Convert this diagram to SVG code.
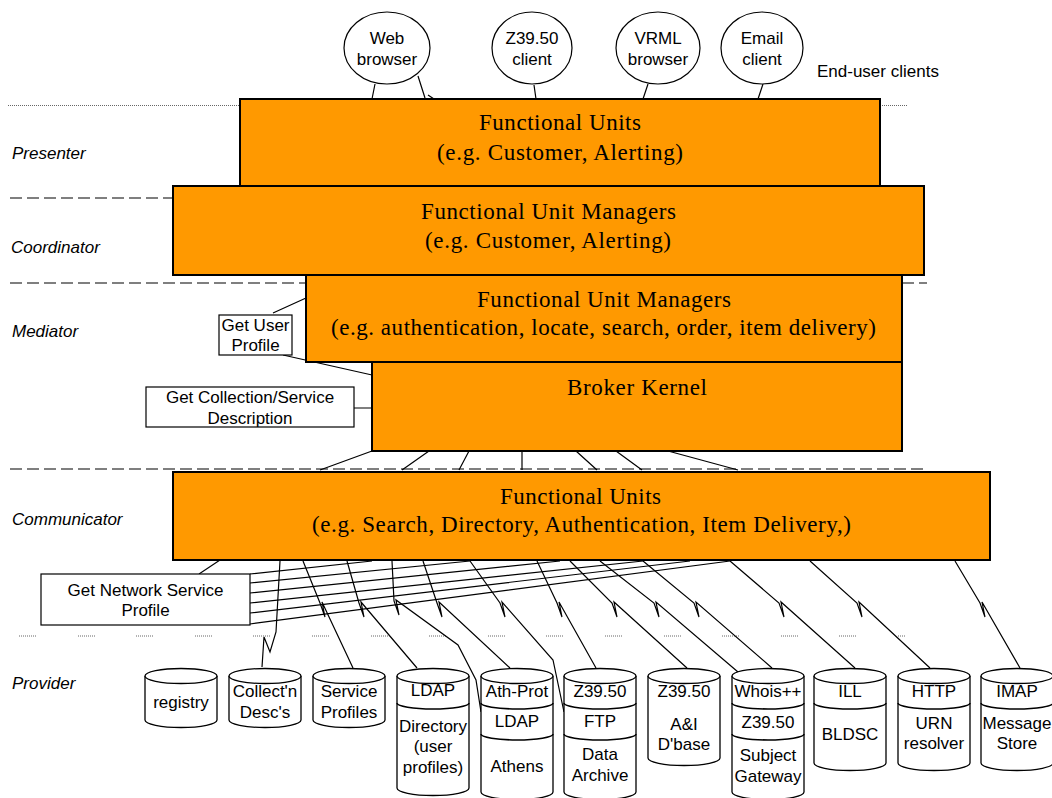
<svg xmlns="http://www.w3.org/2000/svg" width="1052" height="798" viewBox="0 0 1052 798">
<style>
.box{fill:#FF9900;stroke:#000;stroke-width:2}
.ser{font-family:"Liberation Serif","Times New Roman",serif;font-size:23px;fill:#000;text-anchor:middle}
.sans{font-family:"Liberation Sans",Arial,sans-serif;font-size:17px;fill:#000;text-anchor:middle}
.lab{font-family:"Liberation Sans",Arial,sans-serif;font-size:17px;font-style:italic;fill:#000}
.ln{fill:none;stroke:#000;stroke-width:1.2}
.dash{stroke:#555;stroke-width:1.5;stroke-dasharray:12 5;fill:none}
.dot{stroke:#666;stroke-width:1;stroke-dasharray:1 1;fill:none}
.cyl{fill:#fff;stroke:#000;stroke-width:1.3}
.lay{fill:none;stroke:#000;stroke-width:1.6}
.note{fill:#fff;stroke:#000;stroke-width:1.2}
.cli{fill:#fff;stroke:#000;stroke-width:1.2}
</style>
<rect width="1052" height="798" fill="#fff"/>
<g id="separators">
<path class="dot" d="M8 105.5H240M880 105.5H907"/>
<path class="dash" d="M10 198H173"/>
<path class="dash" d="M10 283H306M902 283H927"/>
<path class="dash" d="M10 469H926"/>
<path class="dot" d="M19 636h18M78 636h18M136 636h18M195 636h18M253 636h18M312 636h18M371 636h18M429 636h18M488 636h18M546 636h18M605 636h18M664 636h18M722 636h18M781 636h18M839 636h18M898 636h7"/>
</g>
<g id="layer-labels">
<text class="lab" x="12" y="159">Presenter</text>
<text class="lab" x="11" y="253">Coordinator</text>
<text class="lab" x="12" y="337">Mediator</text>
<text class="lab" x="12" y="525">Communicator</text>
<text class="lab" x="12" y="689">Provider</text>
<text class="sans" x="817" y="77" style="text-anchor:start">End-user clients</text>
</g>
<g id="connectors">
<path class="ln" d="M375 84L372 99M418 76L425 98M428 95L434 99M534 85L536 99M648 84L643 99M763 84L758 99"/>
<path class="ln" d="M273 313L306 298M283 355L372 375M354 408H372"/>
<path class="ln" d="M372 451L320 470M429 451L402 470M469 451L459 470M522 451V470M576 451L597 470M616 451L642 470M668 451L738 470"/>
<path class="ln" d="M199 574L220 560"/>
<path class="ln" d="M250 574L372 561M250 583L470 561M250 593L560 561M250 603L643 561M250 613L690 561M250 624L730 561"/>
<path class="ln" d="M280 561L276 632L270 652L264 637L262 667"/>
<path class="ln" d="M303 561L320 603L325 617L322 602L353 668"/>
<path class="ln" d="M347 561L359 603L364 617L361 602L417 668"/>
<path class="ln" d="M392 561L394 601L399 615L396 600L458 645L476 680L481 712"/>
<path class="ln" d="M423 561L437 603L442 617L439 602L510 668"/>
<path class="ln" d="M470 561L500 603L505 617L502 602L553 660L564 712"/>
<path class="ln" d="M537 561L557 603L562 617L559 602L596 668"/>
<path class="ln" d="M570 561L612 603L617 617L614 602L687 668"/>
<path class="ln" d="M600 561L654 603L659 617L656 602L738 672"/>
<path class="ln" d="M643 561L694 603L699 617L696 602L772 668"/>
<path class="ln" d="M730 561L779 603L784 617L781 602L855 668"/>
<path class="ln" d="M810 561L857 603L862 617L859 602L930 668"/>
<path class="ln" d="M955 561L980 603L985 617L982 602L1020 668"/>
</g>
<g id="client-web"><ellipse class="cli" cx="387" cy="48" rx="43" ry="36"/><text class="sans" x="387" y="44">Web</text><text class="sans" x="387" y="65">browser</text></g>
<g id="client-z3950"><ellipse class="cli" cx="532" cy="48" rx="40" ry="36"/><text class="sans" x="532" y="44">Z39.50</text><text class="sans" x="532" y="65">client</text></g>
<g id="client-vrml"><ellipse class="cli" cx="658" cy="48" rx="42" ry="36"/><text class="sans" x="658" y="44">VRML</text><text class="sans" x="658" y="65">browser</text></g>
<g id="client-email"><ellipse class="cli" cx="762" cy="48" rx="41" ry="36"/><text class="sans" x="762" y="44">Email</text><text class="sans" x="762" y="65">client</text></g>
<g id="presenter-fu"><rect class="box" x="240" y="99" width="640" height="87"/><text class="ser" x="560" y="130" textLength="162">Functional Units</text><text class="ser" x="560" y="160" textLength="246">(e.g. Customer, Alerting)</text></g>
<g id="coordinator-fum"><rect class="box" x="173" y="186" width="751" height="89"/><text class="ser" x="548.5" y="219" textLength="255">Functional Unit Managers</text><text class="ser" x="548" y="248" textLength="246">(e.g. Customer, Alerting)</text></g>
<g id="mediator-fum"><rect class="box" x="306" y="275" width="596" height="87"/><text class="ser" x="604" y="307" textLength="254">Functional Unit Managers</text><text class="ser" x="603.5" y="335" textLength="545">(e.g. authentication, locate, search, order, item delivery)</text></g>
<g id="broker-kernel"><rect class="box" x="372" y="362" width="530" height="89"/><text class="ser" x="637" y="395" textLength="140">Broker Kernel</text></g>
<g id="communicator-fu"><rect class="box" x="173" y="472" width="817" height="88"/><text class="ser" x="580.5" y="504" textLength="161">Functional Units</text><text class="ser" x="581.5" y="532" textLength="539">(e.g. Search, Directory, Authentication, Item Delivery,)</text></g>
<g id="get-user-profile"><rect class="note" x="219" y="315" width="73" height="40"/><text class="sans" x="255.5" y="331">Get User</text><text class="sans" x="255.5" y="351">Profile</text></g>
<g id="get-collection"><rect class="note" x="146" y="387" width="208" height="40"/><text class="sans" x="250" y="403">Get Collection/Service</text><text class="sans" x="250" y="424">Description</text></g>
<g id="get-network"><rect class="note" x="41" y="574" width="209" height="51"/><text class="sans" x="145.5" y="596">Get Network Service</text><text class="sans" x="145.5" y="616">Profile</text></g>
<g id="cyl-registry"><path class="cyl" d="M145 676V720A36 7.5 0 0 0 217 720V676"/><ellipse class="cyl" cx="181" cy="676" rx="36" ry="7.5"/><text class="sans" x="181" y="708">registry</text></g>
<g id="cyl-collectn"><path class="cyl" d="M229 676V720A36 7.5 0 0 0 301 720V676"/><ellipse class="cyl" cx="265" cy="676" rx="36" ry="7.5"/><text class="sans" x="265" y="697">Collect'n</text><text class="sans" x="265" y="718">Desc's</text></g>
<g id="cyl-service"><path class="cyl" d="M313 676V720A36 7.5 0 0 0 385 720V676"/><ellipse class="cyl" cx="349" cy="676" rx="36" ry="7.5"/><text class="sans" x="349" y="697">Service</text><text class="sans" x="349" y="718">Profiles</text></g>
<g id="cyl-ldap"><path class="cyl" d="M397 676V788A36 7.5 0 0 0 469 788V676"/><ellipse class="cyl" cx="433" cy="676" rx="36" ry="7.5"/><path class="lay" d="M397 703A36 6 0 0 0 469 703"/><text class="sans" x="433" y="696">LDAP</text><text class="sans" x="433" y="732">Directory</text><text class="sans" x="433" y="752">(user</text><text class="sans" x="433" y="773">profiles)</text></g>
<g id="cyl-athens"><path class="cyl" d="M481 676V792A36 7.5 0 0 0 553 792V676"/><ellipse class="cyl" cx="517" cy="676" rx="36" ry="7.5"/><path class="lay" d="M481 703A36 6 0 0 0 553 703M481 734A36 6 0 0 0 553 734"/><text class="sans" x="517" y="697">Ath-Prot</text><text class="sans" x="517" y="727">LDAP</text><text class="sans" x="517" y="772">Athens</text></g>
<g id="cyl-archive"><path class="cyl" d="M564 676V792A36 7.5 0 0 0 636 792V676"/><ellipse class="cyl" cx="600" cy="676" rx="36" ry="7.5"/><path class="lay" d="M564 703A36 6 0 0 0 636 703M564 734A36 6 0 0 0 636 734"/><text class="sans" x="600" y="697">Z39.50</text><text class="sans" x="600" y="727">FTP</text><text class="sans" x="600" y="760">Data</text><text class="sans" x="600" y="781">Archive</text></g>
<g id="cyl-ai"><path class="cyl" d="M648 676V758A36 7.5 0 0 0 720 758V676"/><ellipse class="cyl" cx="684" cy="676" rx="36" ry="7.5"/><text class="sans" x="684" y="697">Z39.50</text><text class="sans" x="684" y="730">A&amp;I</text><text class="sans" x="684" y="750">D'base</text></g>
<g id="cyl-whois"><path class="cyl" d="M732 676V792A36 7.5 0 0 0 804 792V676"/><ellipse class="cyl" cx="768" cy="676" rx="36" ry="7.5"/><path class="lay" d="M732 703A36 6 0 0 0 804 703M732 734A36 6 0 0 0 804 734"/><text class="sans" x="768" y="697">Whois++</text><text class="sans" x="768" y="728">Z39.50</text><text class="sans" x="768" y="761">Subject</text><text class="sans" x="768" y="782">Gateway</text></g>
<g id="cyl-ill"><path class="cyl" d="M814 676V763A36 7.5 0 0 0 886 763V676"/><ellipse class="cyl" cx="850" cy="676" rx="36" ry="7.5"/><path class="lay" d="M814 703A36 6 0 0 0 886 703"/><text class="sans" x="850" y="697">ILL</text><text class="sans" x="850" y="740">BLDSC</text></g>
<g id="cyl-http"><path class="cyl" d="M898 676V763A36 7.5 0 0 0 970 763V676"/><ellipse class="cyl" cx="934" cy="676" rx="36" ry="7.5"/><path class="lay" d="M898 703A36 6 0 0 0 970 703"/><text class="sans" x="934" y="697">HTTP</text><text class="sans" x="934" y="729">URN</text><text class="sans" x="934" y="749">resolver</text></g>
<g id="cyl-imap"><path class="cyl" d="M981 676V763A36 7.5 0 0 0 1053 763V676"/><ellipse class="cyl" cx="1017" cy="676" rx="36" ry="7.5"/><path class="lay" d="M981 703A36 6 0 0 0 1053 703"/><text class="sans" x="1017" y="697">IMAP</text><text class="sans" x="1017" y="729">Message</text><text class="sans" x="1017" y="749">Store</text></g>
</svg>
